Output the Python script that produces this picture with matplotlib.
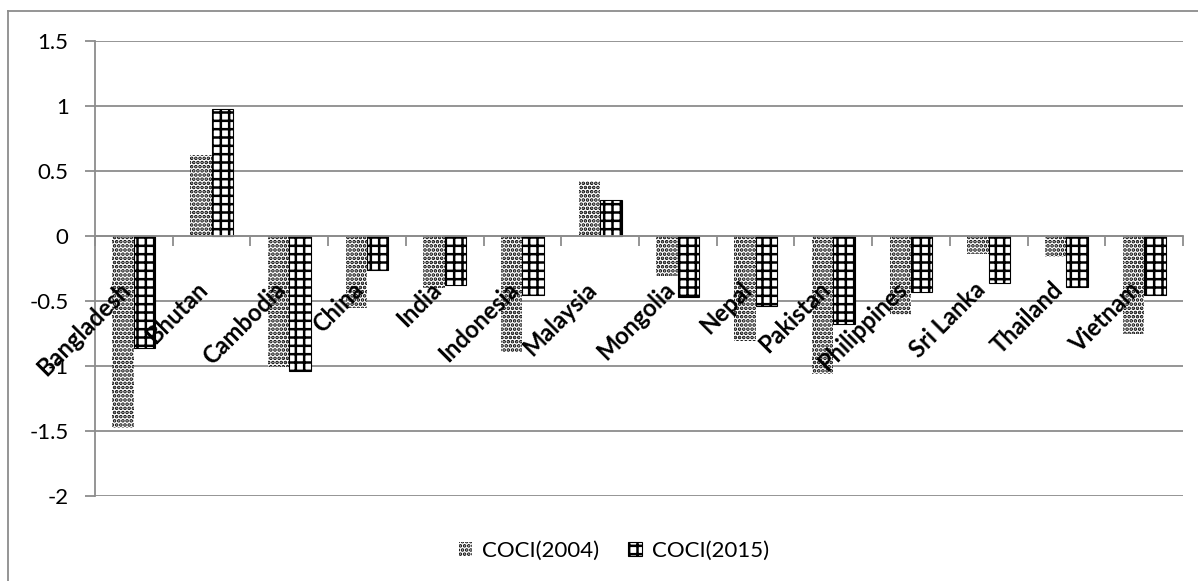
import matplotlib
matplotlib.use("Agg")
import matplotlib.pyplot as plt
from matplotlib.lines import Line2D
import numpy as np

countries = ["Bangladesh", "Bhutan", "Cambodia", "China", "India", "Indonesia",
             "Malaysia", "Mongolia", "Nepal", "Pakistan", "Philippines",
             "Sri Lanka", "Thailand", "Vietnam"]
coci_2004 = [-1.48, 0.62, -1.01, -0.55, -0.40, -0.89, 0.42, -0.31, -0.81,
             -1.06, -0.61, -0.14, -0.16, -0.75]
coci_2015 = [-0.86, 0.98, -1.04, -0.26, -0.38, -0.45, 0.28, -0.47, -0.54,
             -0.68, -0.43, -0.36, -0.39, -0.45]
y_ticks = [-2, -1.5, -1, -0.5, 0, 0.5, 1, 1.5]
y_tick_labels = ["-2", "-1.5", "-1", "-0.5", "0", "0.5", "1", "1.5"]

plt.rcParams['font.family'] = ['Lato', 'DejaVu Sans']
plt.rcParams['hatch.linewidth'] = 1.8

W, H = 1198, 581
fig = plt.figure(figsize=(W / 100, H / 100), dpi=100)
ax = fig.add_axes([95 / W, 1 - 496 / H, (1183 - 95) / W, (496 - 41) / H])

grey = '#8c8c8c'
x = np.arange(len(countries))
bw = 0.275
b1 = ax.bar(x - bw / 2, coci_2004, bw, color='white', edgecolor='black',
            linewidth=0, hatch='....', label='COCI(2004)', zorder=3)
b2 = ax.bar(x + bw / 2, coci_2015, bw, color='white', edgecolor='black',
            linewidth=0.8, hatch='++', label='COCI(2015)', zorder=3)

ax.set_xlim(-0.5, len(countries) - 0.5)
ax.set_ylim(-2, 1.5)
ax.set_yticks(y_ticks)
ax.set_yticklabels(y_tick_labels, fontsize=16)
ax.yaxis.grid(True, color=grey, linewidth=1.3, zorder=0)
ax.set_axisbelow(True)

for s in ['top', 'right']:
    ax.spines[s].set_visible(False)
ax.spines['left'].set_color(grey)
ax.spines['left'].set_linewidth(1.3)
ax.spines['bottom'].set_position(('data', 0))
ax.spines['bottom'].set_color(grey)
ax.spines['bottom'].set_linewidth(1.3)
ax.spines['bottom'].set_zorder(4)

ax.set_xticks(np.arange(len(countries) + 1) - 0.5)
ax.set_xticklabels([])
ax.tick_params(axis='x', direction='out', length=7, width=1.3, color=grey)
ax.tick_params(axis='y', direction='out', length=7, width=1.3, color=grey, pad=12)

for i, name in enumerate(countries):
    ax.text(i + 0.01, -0.32, name, rotation=45, ha='right', va='top',
            fontsize=17, fontweight='bold', zorder=5)

fig.legend(handles=[b1, b2], labels=['COCI(2004)', 'COCI(2015)'],
           loc='center', bbox_to_anchor=(614 / W, 1 - 551 / H), ncol=2,
           frameon=False, fontsize=16, handlelength=0.6, handleheight=0.6,
           handletextpad=0.45, columnspacing=1.3)

fig.add_artist(Line2D([8 / W, 8 / W], [0, 1 - 11 / H], color=grey, linewidth=1.3,
                      transform=fig.transFigure))
fig.add_artist(Line2D([8 / W, 1], [1 - 11 / H, 1 - 11 / H], color=grey, linewidth=1.3,
                      transform=fig.transFigure))

fig.savefig('out.png', dpi=100)
